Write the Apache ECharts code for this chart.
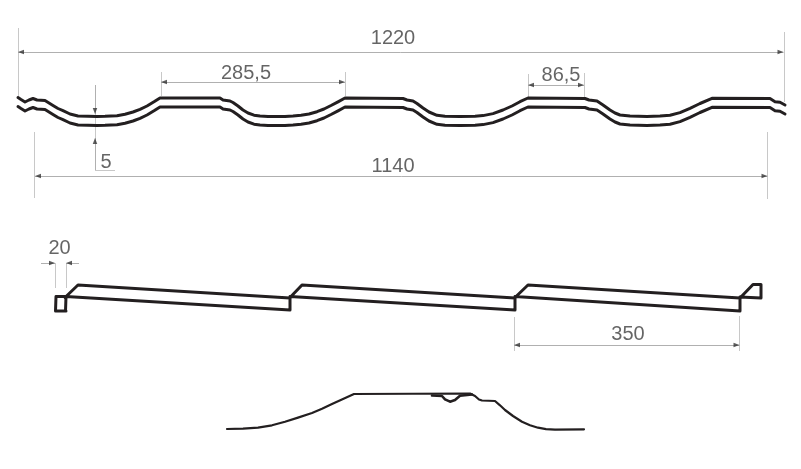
<!DOCTYPE html>
<html><head><meta charset="utf-8">
<style>html,body{margin:0;padding:0;background:#fff}#c{width:801px;height:469px}</style>
<script src="https://cdn.jsdelivr.net/npm/echarts@6/dist/echarts.min.js"></script>
</head><body><div id="c"></div>
<script>
// Profile outlines [x, y]
var profileTop = [[18,97.5],[21,99.5],[25,102],[29,100],[33,98.5],[37,100],[45,100.5],[47,101.7],[53,105.5],[58,108.5],[63,110.7],[70,114],[78,116],[88,116.3],[97,116.4],[105,116.3],[117,115.7],[125,114.2],[133,112],[140,109.3],[147,106],[154,101.8],[160,98],[220,98],[223,100],[230,101],[233,102.5],[238,106],[243,110],[248,113],[254,115.2],[260,116.1],[268,116.4],[285,116.4],[293,116],[301,115.2],[309,114],[317,111.7],[324,109],[331,105.5],[338,101.8],[345,98],[403,98.5],[407,100],[413,101],[417,103.5],[423,108],[429,112],[437,115.3],[445,116.2],[460,116.4],[475,116.2],[483,115.6],[493,113.6],[503,110],[512,106],[520,101.7],[528,98],[585,98.5],[589,100],[597,101],[603,105],[610,110],[615,113],[620,115],[630,116.1],[647,116.4],[660,116],[670,115.3],[680,112.6],[690,108.3],[700,103.5],[712,98.3],[770,98.5],[775,101.7],[780,102.3],[785,105]];
var profileBottom = [[18,106.5],[21,108.5],[25,111],[29,109],[33,107.5],[37,109],[45,109.5],[47,110.7],[53,114.5],[58,117.5],[63,119.7],[70,123],[78,125],[88,125.3],[97,125.4],[105,125.3],[117,124.7],[125,123.2],[133,121],[140,118.3],[147,115],[154,110.8],[160,107],[220,107],[223,109],[230,110],[233,111.5],[238,115],[243,119],[248,122],[254,124.2],[260,125.1],[268,125.4],[285,125.4],[293,125],[301,124.2],[309,123],[317,120.7],[324,118],[331,114.5],[338,110.8],[345,107],[403,107.5],[407,109],[413,110],[417,112.5],[423,117],[429,121],[437,124.3],[445,125.2],[460,125.4],[475,125.2],[483,124.6],[493,122.6],[503,119],[512,115],[520,110.7],[528,107],[585,107.5],[589,109],[597,110],[603,114],[610,119],[615,122],[620,124],[630,125.1],[647,125.4],[660,125],[670,124.3],[680,121.6],[690,117.3],[700,112.5],[712,107.3],[770,107.5],[775,110.7],[780,111.3],[785,114]];
var sheetOutlines = [
  [[66,311],[55.5,311],[56,296.5],[66,296.5],[65.5,311]],
  [[65,297.5],[78,285],[290,298],[290,310],[66,296.5]],
  [[290,297.5],[302,285],[515,298],[515,310],[290,296.5]],
  [[515,297.5],[528,285],[740,298],[740,311],[515,296.5]],
  [[740,298],[753,284.5],[761,284.5],[761,298],[740,297]]
];
var detailProfile = [[227,429],[243,428.6],[258,427.7],[272,425.3],[285,421.7],[298,417.6],[312,413],[322,408.8],[332,404],[343,399],[354,394],[470,393.5],[475,396],[479,399.5],[482,400.5],[495,401],[500,405.3],[505,410],[513,416],[522,421.7],[530,425.2],[538,427.7],[546,429.1],[555,429.7],[584,429.3]];
var detailLap = [[432,395.5],[442,396],[445,399.3],[450,401.7],[455,400],[460,395.7],[472,394.5]];
// Dimension lines
var dimLines = [
  {from:[18,52],to:[783.5,52],both:true},
  {from:[35,176],to:[767.5,176],both:true},
  {from:[161,82],to:[345,82],both:true},
  {from:[528,85],to:[584,85],both:true},
  {from:[514,345],to:[739.5,345],both:true},
  {from:[41,263],to:[55,263],both:false},
  {from:[79,263],to:[66,263],both:false},
  {from:[95,85],to:[95,114],both:false},
  {from:[95,170],to:[95,138],both:false}
];
var extensionLines = [
  [[18,28],[18,97]],[[784,32],[784,102]],
  [[34.5,132],[34.5,198]],[[767.5,132],[767.5,199]],
  [[161,72],[161,96]],[[345,72],[345,96]],
  [[528,74],[528,97]],[[584,73],[584,97]],
  [[55,263],[55,288]],[[66,263],[66,288]],
  [[514,317],[514,351]],[[739.5,316],[739.5,351]],
  [[95,114],[95,138]],[[95,170],[115,170]]
];
var dimLabels = [[393,38,"1220"],[393,166,"1140"],[246,73,"285,5"],[561,75.5,"86,5"],[106,162,"5"],[59.5,248,"20"],[628,334,"350"]];

var dark = '#231f20', thin = '#b0b0b0';
function curve(d, w){
  return {type:'line',data:d,showSymbol:false,symbol:'none',smooth:false,silent:true,clip:false,
    lineStyle:{color:dark,width:w,cap:'round',join:'round'}};
}
function seg(list, color){
  return {type:'lines',coordinateSystem:'cartesian2d',silent:true,z:1,
    data:list.map(function(e){return {coords:e};}),
    lineStyle:{color:color,width:1,opacity:1},symbol:['none','none']};
}
function head(tip, other){
  var dx = tip[0]-other[0], dy = tip[1]-other[1], len = Math.sqrt(dx*dx+dy*dy);
  var rot = Math.abs(dx) > Math.abs(dy) ? (dx > 0 ? -90 : 90) : (dy > 0 ? 180 : 0);
  return {value:[tip[0]-dx/len*3, tip[1]-dy/len*3], symbolRotate:rot};
}
var heads = [];
dimLines.forEach(function(l){
  heads.push(head(l.to,l.from));
  if(l.both) heads.push(head(l.from,l.to));
});
var series = [];
series.push(seg(extensionLines,'#c8c8c8'));
series.push(seg(dimLines.map(function(l){return [l.from,l.to];}),thin));
series.push({type:'scatter',data:heads,symbol:'triangle',symbolSize:[4.5,6],silent:true,z:2,clip:false,itemStyle:{color:'#333'}});
series.push(curve(profileTop,3));
series.push(curve(profileBottom,3));
sheetOutlines.forEach(function(o){series.push(curve(o,3));});
series.push(curve(detailProfile,2.2));
series.push(curve(detailLap,2.6));
series.push({type:'scatter',data:dimLabels,symbolSize:0,silent:true,z:5,clip:false,
  label:{show:true,position:'inside',formatter:function(p){return p.value[2];},
    fontFamily:'"Liberation Sans",Arial,sans-serif',fontSize:20,color:'#3f3f3f'}});

var chart = echarts.init(document.getElementById('c'),null,{renderer:'canvas'});
chart.setOption({
  animation:false,backgroundColor:'#fff',
  grid:{left:0,right:0,top:0,bottom:0},
  xAxis:{type:'value',min:0,max:801,show:false},
  yAxis:{type:'value',min:0,max:469,inverse:true,show:false},
  series:series
});
</script></body></html>
